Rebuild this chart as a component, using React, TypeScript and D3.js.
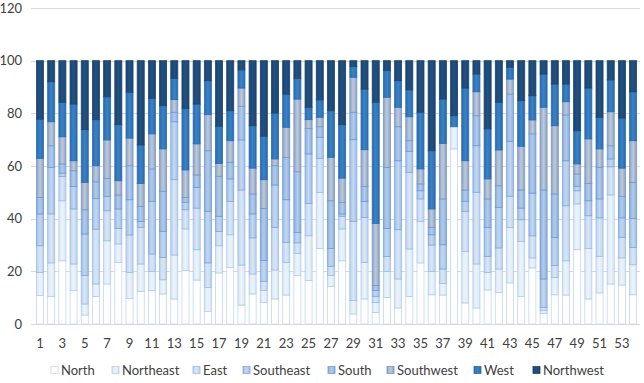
import React from "react";
import * as d3 from "d3";

// Share (%) of each direction per station; stacked to 100.
const stations = d3.range(1, 55);
const north = [10.8, 10.5, 24, 12.7, 3.4, 10.5, 15.2, 23.4, 9.7, 12.3, 12.7, 11.4, 9.5, 20.3, 16.7, 4.7, 19.4, 21.5, 7.2, 11.4, 8.2, 9.5, 11, 18.4, 16.5, 28.7, 14.2, 24, 3.8, 9.5, 4.4, 10.1, 6.1, 10.5, 23.2, 11.1, 11, 66.5, 8, 6.1, 12.9, 12, 15.6, 10.5, 21.3, 4, 11.1, 11, 28.2, 9.5, 11.8, 15.2, 14.8, 11.1];
const northeast = [8.8, 12.7, 22.8, 10.1, 4.2, 4.7, 16.4, 7, 9.9, 10.5, 7.2, 5.4, 16.7, 15.8, 11.5, 9.2, 10.3, 12.4, 15.2, 7.6, 4.5, 11, 12.4, 8.4, 17, 21.3, 4.2, 12.1, 5.1, 13.9, 3.8, 9.8, 11, 18, 15.8, 8.8, 4.4, 8.4, 19.6, 16.7, 6.7, 8.9, 21.1, 20.9, 3.8, 1.1, 6.6, 13, 17.4, 19.2, 13.9, 33.8, 10.3, 11.4];
const east = [10.1, 18.6, 9.2, 20.9, 10.8, 20.8, 11.4, 5.9, 14.2, 13.9, 6.7, 8.5, 28.6, 7.3, 15.8, 9.3, 5.4, 12.6, 28.5, 13.7, 3.5, 16.2, 7.6, 4, 12.3, 12.9, 3.5, 4.8, 30.1, 17.1, 2.3, 5.7, 18.7, 29.1, 8.5, 10.1, 5.5, 0, 15.2, 27.2, 6.1, 8, 11.8, 8.2, 8.4, 1.2, 4.5, 20.9, 5, 12.4, 14.6, 10.7, 7.8, 6.6];
const southeast = [12.1, 17.7, 1.3, 8.5, 15.8, 11.7, 5.5, 7.4, 13.4, 2.3, 20, 9.9, 22, 2.8, 7.9, 19.6, 5.8, 8.6, 19, 9.1, 7.9, 16.1, 16.2, 4, 18.8, 8, 6.8, 0.9, 31, 6, 2.2, 10.7, 26.2, 8, 3.1, 3.9, 9.2, 0, 3.8, 17.7, 11, 15.4, 20.9, 4.4, 16.2, 10.8, 10.7, 17.1, 1.7, 5.7, 7.2, 3, 7.4, 11];
const south = [6.3, 8.2, 3.5, 6, 9.2, 6.3, 6.8, 5.3, 12.9, 5.7, 12.3, 15.2, 3.6, 1.9, 4.7, 23, 15.2, 6.3, 12.8, 7.6, 19.8, 7.3, 16.1, 23, 9.7, 4, 18.1, 4.4, 10.4, 5.7, 1.9, 23.2, 12.9, 4, 2.6, 2.8, 17.4, 0, 4.3, 11.4, 10.8, 8.2, 17.9, 6.9, 22.5, 33.8, 16.5, 17.4, 4.7, 6.6, 12, 5, 8.1, 13.7];
const southwest = [14.8, 9.1, 10.3, 3.8, 10.4, 6.1, 14.6, 5.4, 10.5, 8.7, 13.3, 16.1, 4.8, 10.4, 11.8, 13.7, 4.9, 8.2, 6.9, 9.8, 10.9, 2.6, 11.4, 27.6, 3.3, 3.6, 16.5, 9.2, 13.3, 14, 23.6, 26.6, 7.4, 9.1, 5.7, 7, 21.1, 0, 11.1, 9.1, 7.6, 13.6, 5.7, 16.6, 5.3, 31.4, 25.9, 5, 3.8, 16.9, 7, 12.9, 10.8, 15.8];
const west = [14.9, 15.2, 13.1, 21.5, 20, 17.5, 16.4, 21.3, 17.4, 14.6, 13.5, 16.4, 8.1, 23.4, 15.1, 12.9, 14.1, 11.4, 6.9, 16.1, 16.5, 17.4, 12.6, 7.9, 4.7, 6.6, 17.7, 20.3, 4.1, 23, 46, 10.1, 10.1, 10.2, 21.5, 22.1, 16.8, 4.2, 27.6, 6.7, 19, 18.1, 4.5, 17.3, 9.2, 12.6, 15.8, 6.7, 12.6, 19.3, 12, 12.1, 19, 18.6];
const northwest = [22.2, 8, 15.8, 16.5, 26.2, 22.4, 13.7, 24.3, 12, 32, 14.3, 17.1, 6.7, 18.1, 16.5, 7.6, 24.9, 19, 3.5, 24.7, 28.7, 19.9, 12.7, 6.7, 17.7, 14.9, 19, 24.3, 2.2, 10.8, 15.8, 3.8, 7.6, 11.1, 19.6, 34.2, 14.6, 20.9, 10.4, 5.1, 25.9, 15.8, 2.5, 15.2, 13.3, 5.1, 8.9, 8.9, 26.6, 10.4, 21.5, 7.3, 21.8, 11.8];

const seriesNames = ["North", "Northeast", "East", "Southeast", "South", "Southwest", "West", "Northwest"];
const seriesValues = [north, northeast, east, southeast, south, southwest, west, northwest];
const yTicks = [0, 20, 40, 60, 80, 100, 120];

// Fill gradient per series: [edge, centre, outline]
const palette: [string, string, string][] = [
  ["#ffffff", "#ffffff", "#c3d8ef"],
  ["#d9e7f6", "#edf4fb", "#b3cdeb"],
  ["#bcd2ee", "#dae7f7", "#9cbde4"],
  ["#9ebee6", "#c4d8f1", "#80a9dc"],
  ["#8aaddd", "#b3cbeb", "#6e9bd3"],
  ["#8ba3c6", "#bdcadd", "#7b97bd"],
  ["#2a6baf", "#3b82c6", "#2b6db0"],
  ["#1b456f", "#225182", "#1b466f"],
];

const W = 644;
const H = 383;
const FONT = "Lato, 'Open Sans', sans-serif";
const TEXT = "#404040";

export default function App() {
  const table = stations.map((s, i) => {
    const row: Record<string, number> = { station: s };
    seriesNames.forEach((n, k) => (row[n] = seriesValues[k][i]));
    return row;
  });
  const stacked = d3.stack<Record<string, number>>().keys(seriesNames)(table);

  const x = d3
    .scaleBand<number>()
    .domain(stations)
    .range([34.4, 638.7])
    .paddingInner(0.37)
    .paddingOuter(0.185);
  const y = d3.scaleLinear().domain([0, 120]).range([324, 8]);

  const legendX = [51, 112, 193, 243, 328, 387, 474, 533];

  return (
    <svg
      width={W}
      height={H}
      style={{ position: "absolute", left: 0, top: 0, background: "#fff" }}
      fontFamily={FONT}
    >
      <defs>
        {palette.map((p, k) => (
          <linearGradient key={k} id={`g${k}`} x1="0" x2="1" y1="0" y2="0">
            <stop offset="0%" stopColor={p[0]} />
            <stop offset="50%" stopColor={p[1]} />
            <stop offset="100%" stopColor={p[0]} />
          </linearGradient>
        ))}
      </defs>

      {yTicks.map((t) => (
        <g key={t}>
          <line
            x1={31}
            x2={640}
            y1={Math.round(y(t)) + 0.5}
            y2={Math.round(y(t)) + 0.5}
            stroke="#d9d9d9"
            strokeWidth={1}
          />
          <text
            x={22}
            y={y(t)}
            dy="0.35em"
            textAnchor="end"
            fontSize={13}
            fill={TEXT}
          >
            {t}
          </text>
        </g>
      ))}

      {stacked.map((layer, k) => (
        <g key={layer.key} fill={`url(#g${k})`} stroke={palette[k][2]} strokeWidth={0.8}>
          {layer.map((d, i) => {
            const h = y(d[0]) - y(d[1]);
            if (h <= 0) return null;
            return (
              <rect
                key={i}
                x={x(stations[i])!}
                y={y(d[1])}
                width={x.bandwidth()}
                height={h}
              />
            );
          })}
        </g>
      ))}

      {stations
        .filter((s) => s % 2 === 1)
        .map((s) => (
          <text
            key={s}
            x={x(s)! + x.bandwidth() / 2}
            y={343}
            dy="0.35em"
            textAnchor="middle"
            fontSize={13}
            fill={TEXT}
          >
            {s}
          </text>
        ))}

      {seriesNames.map((n, k) => (
        <g key={n} transform={`translate(${legendX[k]},370)`}>
          <rect
            x={0}
            y={-3.5}
            width={7}
            height={7}
            fill={`url(#g${k})`}
            stroke={palette[k][2]}
            strokeWidth={0.8}
          />
          <text x={10} y={0} dy="0.35em" fontSize={13} fill={TEXT}>
            {n}
          </text>
        </g>
      ))}
    </svg>
  );
}
